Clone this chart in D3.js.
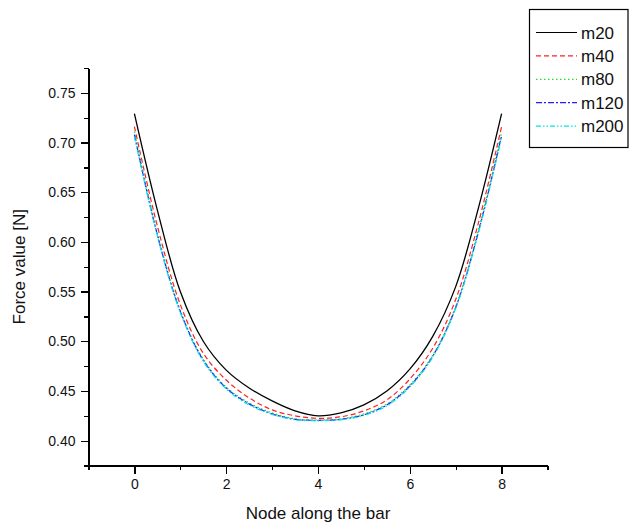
<!DOCTYPE html>
<html lang="en">
<head>
  <meta charset="UTF-8" />
  <title>Force value along the bar</title>
  <script src="https://d3js.org/d3.v7.min.js"></script>
  <style>
    body { margin: 0; background: #fff; }
    svg { display: block; font-family: "Liberation Sans", Arial, sans-serif; }
    .axis path, .axis line { stroke: #000; stroke-width: 1.3; shape-rendering: crispEdges; }
    .axis text { font-size: 14px; fill: #111; }
  </style>
</head>
<body>
  <div id="chart"></div>
  <script>
    // node positions along the bar (half-node steps)
    var nodes = [0, 0.5, 1, 1.5, 2, 2.5, 3, 3.5, 4, 4.5, 5, 5.5, 6, 6.5, 7, 7.5, 8];

    var m20  = [0.729, 0.632, 0.550, 0.500, 0.471, 0.453, 0.440, 0.430, 0.425, 0.428, 0.436, 0.450, 0.472, 0.505, 0.555, 0.635, 0.729];
    var m40  = [0.716, 0.616, 0.537, 0.488, 0.461, 0.443, 0.431, 0.425, 0.4225, 0.424, 0.430, 0.441, 0.462, 0.493, 0.542, 0.620, 0.716];
    var m80  = [0.711, 0.609, 0.531, 0.482, 0.454, 0.438, 0.428, 0.422, 0.4208, 0.422, 0.427, 0.437, 0.456, 0.486, 0.535, 0.613, 0.710];
    var m120 = [0.708, 0.607, 0.530, 0.481, 0.453, 0.437, 0.427, 0.4215, 0.4205, 0.4215, 0.426, 0.436, 0.455, 0.485, 0.534, 0.611, 0.707];
    var m200 = [0.706, 0.606, 0.529, 0.480, 0.452, 0.436, 0.4265, 0.421, 0.420, 0.421, 0.4255, 0.435, 0.454, 0.484, 0.533, 0.610, 0.705];

    var seriesNames = ['m20', 'm40', 'm80', 'm120', 'm200'];
    var seriesValues = [m20, m40, m80, m120, m200];
    var seriesColors = ['#000000', '#ff2020', '#22dd22', '#2020ff', '#00e5e5'];
    var seriesDashes = ['none', '5,3', '1.5,2.5', '6,2,2,2', '5,2,1.5,2,1.5,2'];

    var xTicks = [0, 2, 4, 6, 8];
    var xMinor = [-1, 1, 3, 5, 7, 9];
    var yTicks = [0.40, 0.45, 0.50, 0.55, 0.60, 0.65, 0.70, 0.75];
    var yMinor = [0.375, 0.425, 0.475, 0.525, 0.575, 0.625, 0.675, 0.725, 0.775];

    var width = 629, height = 528;

    var x = d3.scaleLinear().domain([-1, 9]).range([88.5, 547.5]);
    var y = d3.scaleLinear().domain([0.375, 0.775]).range([465.5, 68]);

    var svg = d3.select('#chart').append('svg')
      .attr('width', width)
      .attr('height', height);

    // minor ticks first, then the major axes on top
    svg.append('g')
      .attr('class', 'axis')
      .attr('transform', 'translate(0,' + y.range()[0] + ')')
      .call(d3.axisBottom(x).tickValues(xMinor).tickSize(4.5).tickSizeOuter(0).tickFormat(''));

    svg.append('g')
      .attr('class', 'axis')
      .attr('transform', 'translate(0,' + y.range()[0] + ')')
      .call(d3.axisBottom(x).tickValues(xTicks).tickSize(8).tickSizeOuter(0).tickPadding(6).tickFormat(d3.format('d')));

    svg.append('g')
      .attr('class', 'axis')
      .attr('transform', 'translate(' + x.range()[0] + ',0)')
      .call(d3.axisLeft(y).tickValues(yMinor).tickSize(4.5).tickSizeOuter(0).tickFormat(''));

    svg.append('g')
      .attr('class', 'axis')
      .attr('transform', 'translate(' + x.range()[0] + ',0)')
      .call(d3.axisLeft(y).tickValues(yTicks).tickSize(8).tickSizeOuter(0).tickPadding(5).tickFormat(d3.format('.2f')));

    // axis titles
    svg.append('text')
      .attr('x', (x.range()[0] + x.range()[1]) / 2)
      .attr('y', 519)
      .attr('text-anchor', 'middle')
      .style('font-size', '17px')
      .style('fill', '#111')
      .text('Node along the bar');

    svg.append('text')
      .attr('transform', 'translate(25,' + ((y.range()[0] + y.range()[1]) / 2) + ') rotate(-90)')
      .attr('text-anchor', 'middle')
      .style('font-size', '17px')
      .style('fill', '#111')
      .text('Force value [N]');

    // curves
    var line = d3.line()
      .x(function (d, i) { return x(nodes[i]); })
      .y(function (d) { return y(d); })
      .curve(d3.curveCatmullRom.alpha(0.5));

    seriesValues.forEach(function (vals, i) {
      svg.append('path')
        .datum(vals)
        .attr('d', line)
        .attr('fill', 'none')
        .attr('stroke', seriesColors[i])
        .attr('stroke-width', i === 0 ? 1.3 : 1.2)
        .attr('stroke-dasharray', seriesDashes[i]);
    });

    // legend
    var legend = svg.append('g');
    legend.append('rect')
      .attr('x', 529.5)
      .attr('y', 9.5)
      .attr('width', 98.5)
      .attr('height', 138)
      .attr('fill', '#fff')
      .attr('stroke', '#000')
      .attr('stroke-width', 1.2);

    seriesNames.forEach(function (name, i) {
      var ly = 32.5 + i * 23.4;
      legend.append('line')
        .attr('x1', 536).attr('x2', 577)
        .attr('y1', ly).attr('y2', ly)
        .attr('stroke', seriesColors[i])
        .attr('stroke-width', 1.2)
        .attr('stroke-dasharray', seriesDashes[i]);
      legend.append('text')
        .attr('x', 581)
        .attr('y', ly + 6)
        .style('font-size', '17px')
        .style('fill', '#111')
        .text(name);
    });
  </script>
</body>
</html>
